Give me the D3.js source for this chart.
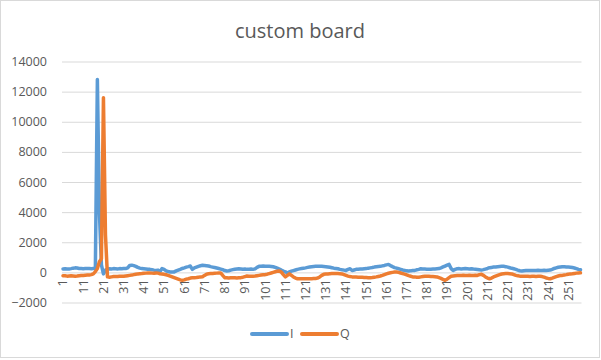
<!DOCTYPE html>
<html><head><meta charset="utf-8">
<script src="https://cdn.jsdelivr.net/npm/d3@7"></script>
<style>body{margin:0;background:#fff;} text{font-family:"Open Sans",sans-serif;fill:#595959;}</style>
</head><body><svg id="c" width="601" height="360"></svg>
<script>
const title = "custom board";
const seriesNames = ["I", "Q"];
const colors = ["#5B9BD5", "#ED7D31"];
const yTicks = [-2000, 0, 2000, 4000, 6000, 8000, 10000, 12000, 14000];
const I = [
230,240,220,230,250,280,300,290,260,250,
240,250,260,250,240,250,250,12800,4000,500,
-100,150,220,240,230,250,240,230,250,240,
260,250,300,460,480,450,400,330,280,250,
240,230,210,200,180,150,130,150,60,250,
200,100,60,30,20,30,100,150,200,260,
300,350,380,420,200,300,350,400,440,470,
460,440,420,380,350,320,290,260,220,180,
120,90,110,150,180,210,230,240,230,210,
220,200,210,220,200,230,330,400,410,420,
400,410,400,390,370,330,280,220,150,90,
40,-40,30,80,120,160,200,230,260,280,
300,330,360,380,390,400,400,410,400,390,
380,360,340,310,280,260,240,200,170,150,
130,200,240,120,160,200,210,220,230,240,
250,280,300,320,350,370,390,400,430,460,
500,530,450,380,320,280,240,200,160,130,
100,90,100,120,130,170,200,240,230,220,
210,200,210,220,230,240,250,300,360,420,
480,530,250,130,200,240,250,230,240,250,
240,230,240,220,210,190,170,150,180,220,
260,310,330,350,360,380,390,400,400,380,
350,310,270,240,200,150,110,90,110,120,
130,130,130,130,130,140,130,130,140,130,
140,150,200,260,300,340,360,380,370,360,
350,340,320,290,250,200,170];
const Q = [
-220,-230,-250,-240,-230,-240,-250,-240,-220,-210,
-200,-190,-180,-170,-150,-100,50,250,700,900,
11600,2500,-300,-320,-300,-280,-270,-280,-260,-250,
-260,-240,-220,-200,-180,-150,-120,-100,-90,-80,
-60,-50,-40,-40,-50,-60,-40,-50,-90,-110,
-130,-160,-200,-250,-300,-350,-400,-450,-500,-530,
-500,-450,-420,-380,-360,-350,-340,-320,-300,-290,
-200,-120,-90,-80,-70,-60,-50,-40,-40,-200,
-350,-360,-370,-360,-350,-360,-370,-360,-350,-320,
-280,-240,-250,-260,-250,-240,-220,-200,-180,-160,
-150,-120,-80,-40,0,40,80,90,20,-150,
-300,-200,-100,-200,-300,-380,-420,-420,-430,-430,
-420,-420,-430,-420,-410,-400,-380,-300,-200,-130,
-110,-100,-90,-80,-70,-70,-80,-90,-100,-150,
-200,-250,-280,-300,-300,-310,-320,-320,-330,-340,
-340,-350,-350,-340,-320,-300,-270,-240,-200,-150,
-100,-60,-30,0,20,20,0,-40,-80,-120,
-170,-220,-260,-300,-300,-320,-320,-300,-280,-260,
-250,-260,-270,-280,-290,-300,-350,-400,-470,-530,
-450,-350,-260,-240,-220,-210,-200,-200,-190,-200,
-200,-190,-200,-200,-190,-200,-150,-130,-200,-300,
-380,-420,-380,-300,-250,-200,-150,-110,-90,-80,
-80,-90,-100,-150,-200,-230,-250,-260,-260,-260,
-260,-270,-260,-260,-270,-260,-260,-280,-320,-370,
-400,-420,-380,-330,-280,-240,-210,-200,-170,-150,
-120,-100,-90,-70,-50,-40,-30];
const categories = I.map((d, i) => i + 1);
const xTickLabels = categories.filter(c => (c - 1) % 10 === 0);
const series = [I, Q];

const svg = d3.select("#c");
const L = 62, R = 581.5, T = 61.5, B = 302.5;
svg.append("rect").attr("x",0.5).attr("y",0.5).attr("width",599).attr("height",357)
  .attr("fill","#fff").attr("stroke","#D9D9D9");

const x = d3.scaleBand().domain(categories).range([L, R]);
const y = d3.scaleLinear().domain([-2000, 14000]).range([B, T]);

svg.append("text").attr("x", 300).attr("y", 38).attr("text-anchor","middle")
  .style("font-size","20px").text(title);

const ya = svg.append("g").attr("transform",`translate(${L},0)`)
  .call(d3.axisLeft(y).tickValues(yTicks).tickSize(-(R-L)).tickPadding(15).tickFormat(d3.format("d")));
ya.select(".domain").remove();
ya.selectAll("line").attr("stroke","#D9D9D9");
ya.selectAll("text").style("font-size","12.5px").attr("fill","#595959");

const xa = svg.append("g").attr("transform",`translate(0,${y(0)})`)
  .call(d3.axisBottom(x).tickValues(xTickLabels).tickSize(0));
xa.select(".domain").remove();
xa.selectAll("text").attr("transform","rotate(-90)").attr("x",-7).attr("y",0).attr("dy","0.35em")
  .attr("text-anchor","end").style("font-size","12.5px").attr("fill","#595959");

const line = d3.line().x((d,i) => x(categories[i]) + x.bandwidth()/2).y(d => y(d));
series.forEach((s, k) => {
  svg.append("path").datum(s).attr("d", line).attr("fill","none")
    .attr("stroke", colors[k]).attr("stroke-width", 3.5).attr("stroke-linejoin","round").attr("stroke-linecap","round");
});

const lg = svg.append("g");
const lx = [252, 302];
seriesNames.forEach((n, k) => {
  lg.append("line").attr("x1", lx[k]).attr("x2", lx[k]+35).attr("y1", 334).attr("y2", 334)
    .attr("stroke", colors[k]).attr("stroke-width", 4).attr("stroke-linecap","round");
  lg.append("text").attr("x", lx[k]+38).attr("y", 334).attr("dy","0.35em")
    .style("font-size","12.5px").text(n);
});
</script></body></html>
